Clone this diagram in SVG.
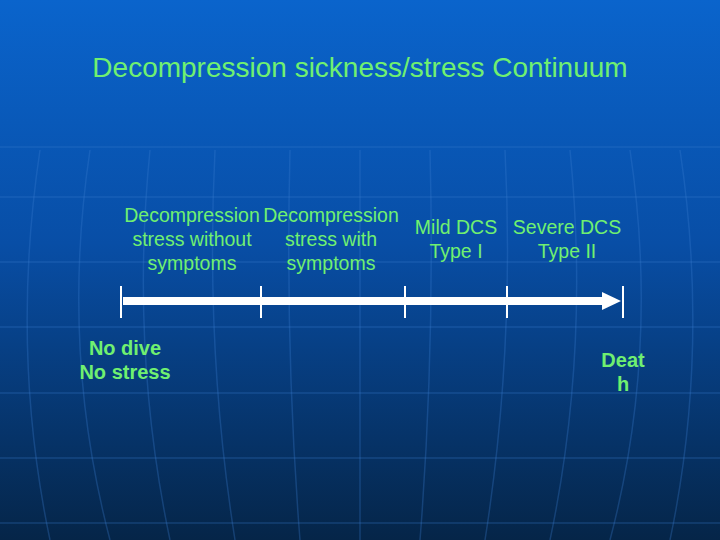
<svg xmlns="http://www.w3.org/2000/svg" width="720" height="540" viewBox="0 0 720 540">
<defs>
<linearGradient id="bg" x1="0" y1="0" x2="0" y2="1">
<stop offset="0" stop-color="#0a64cc"/>
<stop offset="0.45" stop-color="#084ea6"/>
<stop offset="1" stop-color="#052548"/>
</linearGradient>
<style>
.t{font-family:"Liberation Sans",Arial,sans-serif;fill:#70f070;text-anchor:middle}
.l{font-size:19.5px}
.b{font-size:20px;font-weight:bold}
.g{stroke:#3d7fd0;stroke-opacity:0.3;stroke-width:1.5;fill:none}
.tick{stroke:#fff;stroke-width:2}
</style>
</defs>
<rect width="720" height="540" fill="url(#bg)"/>
<g id="grid">
<path class="g" d="M0 147H720M0 197H720M0 262H720M0 327H720M0 393H720M0 458H720M0 523H720"/>
<path class="g" d="M40 150Q10 350 50 540M90 150Q60 350 110 540M150 150Q130 350 170 540M215 150Q205 350 235 540M290 150Q285 350 300 540M360 150V540M430 150Q435 350 420 540M505 150Q515 350 485 540M570 150Q590 350 550 540M630 150Q660 350 610 540M680 150Q710 350 670 540"/>
</g>
<text id="title" class="t" x="360" y="77" font-size="28">Decompression sickness/stress Continuum</text>
<g id="connectors">
<rect x="123" y="297" width="482" height="8" fill="#fff"/>
<polygon points="602,292 621,301 602,310" fill="#fff"/>
<line class="tick" x1="121" y1="286" x2="121" y2="318"/>
<line class="tick" x1="261" y1="286" x2="261" y2="318"/>
<line class="tick" x1="405" y1="286" x2="405" y2="318"/>
<line class="tick" x1="507" y1="286" x2="507" y2="318"/>
<line class="tick" x1="623" y1="286" x2="623" y2="318"/>
</g>
<g id="n1"><text class="t l" x="192" y="222">Decompression</text><text class="t l" x="192" y="246">stress without</text><text class="t l" x="192" y="270">symptoms</text></g>
<g id="n2"><text class="t l" x="331" y="222">Decompression</text><text class="t l" x="331" y="246">stress with</text><text class="t l" x="331" y="270">symptoms</text></g>
<g id="n3"><text class="t l" x="456" y="234">Mild DCS</text><text class="t l" x="456" y="258">Type I</text></g>
<g id="n4"><text class="t l" x="567" y="234">Severe DCS</text><text class="t l" x="567" y="258">Type II</text></g>
<g id="n5"><text class="t b" x="125" y="355">No dive</text><text class="t b" x="125" y="379">No stress</text></g>
<g id="n6"><text class="t b" x="623" y="367">Deat</text><text class="t b" x="623" y="391">h</text></g>
</svg>
